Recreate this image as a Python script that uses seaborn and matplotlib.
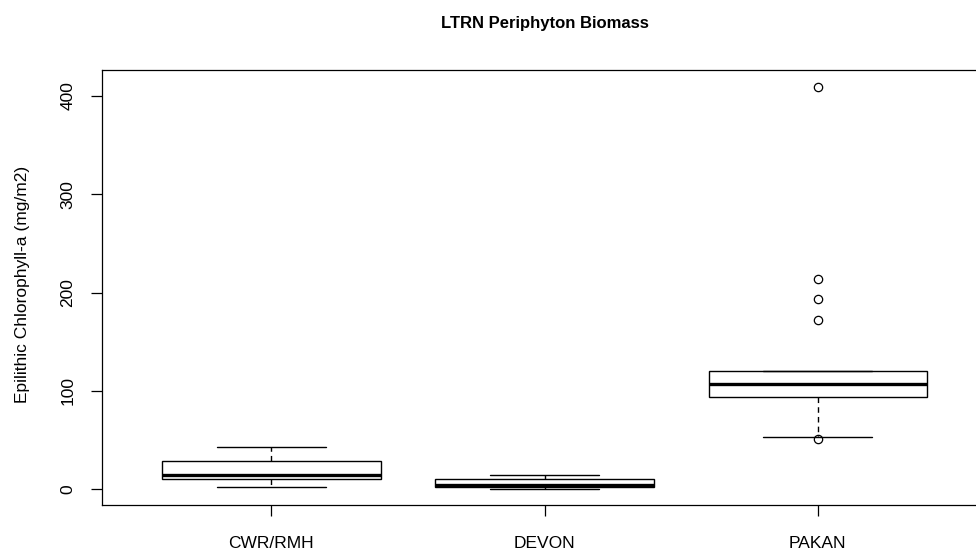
import pandas as pd
import seaborn as sns
import matplotlib.pyplot as plt

sites = ["CWR/RMH", "DEVON", "PAKAN"]
cwr_values = [2.4, 10.2, 14.2, 28.5, 42.7]
devon_values = [0.5, 2.5, 4.5, 10.0, 14.0]
pakan_values = [50.6, 53.2, 78.0, 88.0, 93.3, 96.0, 100.0, 104.0, 106.9,
                110.0, 114.0, 118.0, 120.4, 171.7, 193.7, 213.7, 409.5]
y_ticks = [0, 100, 200, 300, 400]

# Build long-form table
df = pd.concat([
    pd.DataFrame({"site": sites[0], "chla": cwr_values}),
    pd.DataFrame({"site": sites[1], "chla": devon_values}),
    pd.DataFrame({"site": sites[2], "chla": pakan_values}),
], ignore_index=True)

sns.set_style("ticks")
plt.rcParams['font.family'] = ['Liberation Sans', 'DejaVu Sans']
plt.rcParams['text.color'] = 'black'
plt.rcParams['axes.labelcolor'] = 'black'
plt.rcParams['xtick.color'] = 'black'
plt.rcParams['ytick.color'] = 'black'

fig = plt.figure(figsize=(9.76, 5.5), dpi=100)
ax = fig.add_axes([0.1045, 0.0818, 0.907, 0.7909])

sns.boxplot(data=df, x="site", y="chla", order=sites, ax=ax,
            color="white", linecolor="black", linewidth=1.0, saturation=1,
            width=0.8,
            whiskerprops={'linestyle': (0, (4, 3))},
            medianprops={'linewidth': 2.4, 'color': 'black'},
            flierprops={'marker': 'o', 'markerfacecolor': 'none',
                        'markeredgecolor': 'black', 'markersize': 6,
                        'markeredgewidth': 0.9})

ax.set_xlim(-0.62, 2.62)
ax.set_ylim(-16.3, 426.5)
ax.set_yticks(y_ticks)
ax.set_yticklabels([str(t) for t in y_ticks], rotation=90, va='center')

for side in ["top", "right", "left", "bottom"]:
    ax.spines[side].set_visible(True)
    ax.spines[side].set_color("black")
    ax.spines[side].set_linewidth(0.9)

ax.tick_params(axis='x', length=8, width=0.9, pad=14, labelsize=12.5, colors='black')
ax.tick_params(axis='y', length=8, width=0.9, pad=11, labelsize=12.5, colors='black')

ax.set_xlabel("")
ax.set_ylabel("Epilithic Chlorophyll-a (mg/m2)", fontsize=12.5, color='black')
ax.yaxis.set_label_coords(-0.0814, 0.506)
ax.set_title("LTRN Periphyton Biomass", fontsize=12, fontweight="bold",
             pad=30, color='black')

fig.savefig("out.png", dpi=100)
